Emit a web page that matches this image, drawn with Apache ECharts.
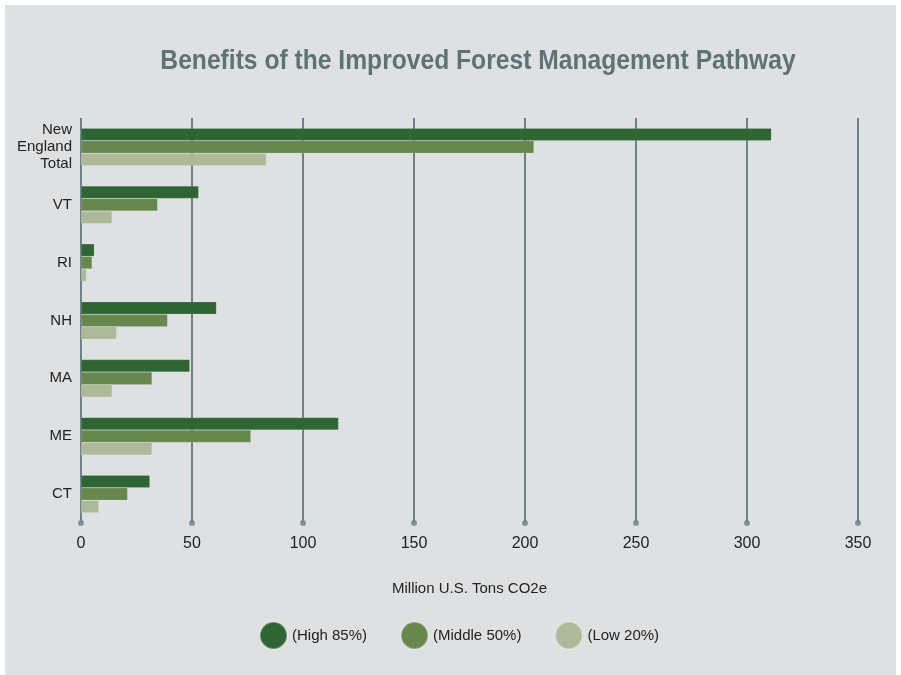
<!DOCTYPE html>
<html>
<head>
<meta charset="utf-8">
<script src="https://cdn.jsdelivr.net/npm/echarts@6/dist/echarts.min.js"></script>
<style>
html,body{margin:0;padding:0;background:#ffffff;}
#bg{position:absolute;left:5px;top:5px;width:891px;height:670px;background:#dfe0e2;}
#chart{position:absolute;left:0;top:0;width:901px;height:675px;}
</style>
</head>
<body>
<div id="bg"></div>
<div id="chart"></div>
<script>
const titleText = 'Benefits of the Improved Forest Management Pathway';
const categories = ['New\nEngland\nTotal', 'VT', 'RI', 'NH', 'MA', 'ME', 'CT'];
const seriesNames = ['(High 85%)', '(Middle 50%)', '(Low 20%)'];
const high = [311, 53, 6, 61, 49, 116, 31];
const middle = [204, 34.5, 5, 39, 32, 76.5, 21];
const low = [83.5, 14, 2.5, 16, 14, 32, 8];
const xTicks = [0, 50, 100, 150, 200, 250, 300, 350];
const colors = ['#2f6534', '#68874f', '#adb998'];

const chart = echarts.init(document.getElementById('chart'), null, {renderer: 'canvas'});
const font = "'Liberation Sans Narrow', 'Liberation Sans', Arial, sans-serif";
const gridColor = '#6f8187';

function barSeries(name, data, color) {
  return {
    name: name,
    type: 'bar',
    data: data,
    barGap: '0%',
    barCategoryGap: '35%',
    itemStyle: {color: color, borderColor: 'rgba(255,255,255,0.25)', borderWidth: 0.5},
    xAxisIndex: 0, yAxisIndex: 0,
    z: 3
  };
}

chart.setOption({
  backgroundColor: 'transparent',
  animation: false,
  graphic: [{
    type: 'text', x: 478, y: 61, scaleX: 0.88, silent: true,
    style: {
      text: titleText, fontFamily: font, fontSize: 28, fontWeight: 'bold',
      fill: '#5f7377', textAlign: 'center', textVerticalAlign: 'middle'
    }
  }],
  legend: {
    data: seriesNames,
    top: 616, left: 254,
    icon: 'circle', itemWidth: 27, itemHeight: 27, itemGap: 33,
    textStyle: {fontFamily: font, fontSize: 15, color: '#222'}
  },
  grid: {left: 81, right: 43, top: 118, bottom: 152, containLabel: false},
  xAxis: {
    type: 'value', min: 0, max: 350, interval: 50,
    name: 'Million U.S. Tons CO2e', nameLocation: 'middle', nameGap: 58,
    nameTextStyle: {fontFamily: font, fontSize: 15, color: '#222'},
    axisLine: {show: false}, axisTick: {show: false},
    axisLabel: {fontFamily: font, fontSize: 16, color: '#222', margin: 13,
      formatter: function (v) { return xTicks.indexOf(v) >= 0 ? String(v) : ''; }},
    splitLine: {show: true, lineStyle: {color: gridColor, width: 2}}
  },
  yAxis: [{
    type: 'category', data: categories, inverse: true,
    axisLine: {show: false}, axisTick: {show: false},
    axisLabel: {fontFamily: font, fontSize: 15, color: '#222', lineHeight: 17, margin: 9, align: 'right'}
  }, {
    type: 'value', min: 0, max: 1, show: false
  }],
  series: [
    barSeries(seriesNames[0], high, colors[0]),
    barSeries(seriesNames[1], middle, colors[1]),
    barSeries(seriesNames[2], low, colors[2]),
    {
      type: 'scatter', yAxisIndex: 1, xAxisIndex: 0,
      data: xTicks.map(function (t) { return [t, 0]; }),
      symbol: 'circle', symbolSize: 6, clip: false,
      itemStyle: {color: gridColor}, silent: true, z: 4,
      legendHoverLink: false
    }
  ],
  color: colors
});
</script>
</body>
</html>
